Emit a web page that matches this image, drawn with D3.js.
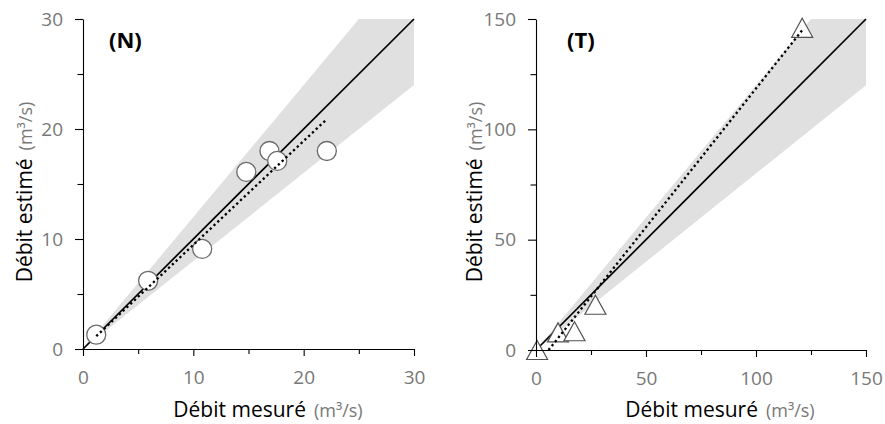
<!DOCTYPE html>
<html>
<head>
<meta charset="utf-8">
<script src="https://cdn.jsdelivr.net/npm/d3@7"></script>
<style>
  html, body { margin: 0; padding: 0; background: #fff; }
  svg { display: block; }
  text { font-family: "Open Sans", sans-serif; }
</style>
</head>
<body>
<svg id="chart" width="885" height="424"></svg>
<script>
// ---- Data ----
// Panel N (circles)
const nMeasured = [1.2, 5.9, 10.8, 14.8, 16.9, 17.6, 22.1];
const nEstimated = [1.3, 6.2, 9.1, 16.1, 18.0, 17.1, 18.0];
const nFitRange = [1.2, 22.0];
const nFitCoef = [0.03, 0.944];   // intercept, slope
const nMajorTicks = [0, 10, 20, 30];
const nMinorTicks = [5, 15, 25];

// Panel T (triangles)
const tMeasured = [0.5, 10, 17.5, 27, 121];
const tEstimated = [0, 8, 8.5, 20.5, 146];
const tFitRange = [5.7, 121];
const tFitCoef = [-7.2, 1.257];
const tMajorTicks = [0, 50, 100, 150];
const tMinorTicks = [25, 75, 125];

// ±20 % band around the 1:1 line
const bandFactors = [0.8, 1.2];

const panelLabels = ["(N)", "(T)"];
const xTitle = "Débit mesuré";
const yTitle = "Débit estimé";
const unitText = "(m³/s)";

// ---- Drawing ----
const svg = d3.select("#chart");
const tickColor = "#787878";

const panels = [
  { label: panelLabels[0], xs: nMeasured, ys: nEstimated, fitRange: nFitRange, fit: nFitCoef,
    max: 30, major: nMajorTicks, minor: nMinorTicks, marker: "circle",
    xr: [83, 414], yr: [349, 19], xTitleX: 268, yTitleX: 32, labelX: 109 },
  { label: panelLabels[1], xs: tMeasured, ys: tEstimated, fitRange: tFitRange, fit: tFitCoef,
    max: 150, major: tMajorTicks, minor: tMinorTicks, marker: "triangle",
    xr: [536, 866], yr: [350, 19], xTitleX: 720, yTitleX: 482, labelX: 567 }
];

panels.forEach((p, i) => {
  const x = d3.scaleLinear().domain([0, p.max]).range(p.xr);
  const y = d3.scaleLinear().domain([0, p.max]).range(p.yr);
  const g = svg.append("g");

  const clipId = "clip" + i;
  svg.append("clipPath").attr("id", clipId)
    .append("rect")
    .attr("x", p.xr[0]).attr("y", p.yr[1])
    .attr("width", p.xr[1] - p.xr[0]).attr("height", p.yr[0] - p.yr[1]);

  // band
  const bandPts = [[0, 0], [p.max * 2, p.max * 2 * bandFactors[1]], [p.max * 2, p.max * 2 * bandFactors[0]]];
  g.append("path")
    .attr("clip-path", `url(#${clipId})`)
    .attr("d", d3.line().x(d => x(d[0])).y(d => y(d[1]))(bandPts) + "Z")
    .attr("fill", "#e0e0e0");

  // 1:1 line
  g.append("path")
    .attr("d", d3.line().x(d => x(d[0])).y(d => y(d[1]))([[0, 0], [p.max, p.max]]))
    .attr("stroke", "#000").attr("stroke-width", 1.7).attr("fill", "none");

  // markers
  const pts = p.xs.map((v, k) => [v, p.ys[k]]);
  if (p.marker === "circle") {
    g.selectAll("circle.pt").data(pts).enter().append("circle")
      .attr("class", "pt")
      .attr("cx", d => x(d[0])).attr("cy", d => y(d[1])).attr("r", 9.5)
      .attr("fill", "#fff").attr("stroke", "#6a6a6a").attr("stroke-width", 1.3);
  } else {
    g.selectAll("path.pt").data(pts).enter().append("path")
      .attr("class", "pt")
      .attr("d", d => {
        const cx = x(d[0]), cy = y(d[1]);
        return `M${cx},${cy - 9.5}L${cx + 10.5},${cy + 9.5}L${cx - 10.5},${cy + 9.5}Z`;
      })
      .attr("fill", "#fff").attr("stroke", "#505050").attr("stroke-width", 1.2);
  }

  // regression (dotted)
  const fitPts = p.fitRange.map(v => [v, p.fit[0] + p.fit[1] * v]);
  g.append("path")
    .attr("d", d3.line().x(d => x(d[0])).y(d => y(d[1]))(fitPts))
    .attr("stroke", "#000").attr("stroke-width", 2.3)
    .attr("stroke-dasharray", "2.3,2.9").attr("fill", "none");

  // axes
  const xAxis = g.append("g").attr("transform", `translate(0,${p.yr[0]})`)
    .call(d3.axisBottom(x).tickValues(p.major).tickSize(7).tickSizeOuter(0).tickPadding(15));
  g.append("g").attr("transform", `translate(0,${p.yr[0]})`)
    .call(d3.axisBottom(x).tickValues(p.minor).tickSize(5).tickFormat("").tickSizeOuter(0))
    .select(".domain").remove();
  const yAxis = g.append("g").attr("transform", `translate(${p.xr[0]},0)`)
    .call(d3.axisLeft(y).tickValues(p.major).tickSize(8).tickSizeOuter(0).tickPadding(12));
  g.append("g").attr("transform", `translate(${p.xr[0]},0)`)
    .call(d3.axisLeft(y).tickValues(p.minor).tickSize(5.5).tickFormat("").tickSizeOuter(0))
    .select(".domain").remove();

  g.selectAll(".tick line").attr("stroke", "#000").attr("stroke-width", 1.1);
  g.selectAll(".domain").attr("stroke", "#000").attr("stroke-width", 1.1);
  xAxis.selectAll(".tick text").attr("font-size", 19).attr("fill", tickColor)
    .attr("font-family", "'Open Sans', sans-serif");
  yAxis.selectAll(".tick text").attr("font-size", 19).attr("fill", tickColor)
    .attr("font-family", "'Open Sans', sans-serif");

  // axis titles
  const xt = svg.append("text")
    .attr("x", p.xTitleX).attr("y", 417).attr("text-anchor", "middle");
  xt.append("tspan").attr("font-size", 21).attr("fill", "#000").text(xTitle);
  xt.append("tspan").attr("font-size", 18).attr("fill", tickColor).attr("dx", 8).text(unitText);

  const yt = svg.append("text")
    .attr("transform", `translate(${p.yTitleX},192) rotate(-90)`).attr("text-anchor", "middle");
  yt.append("tspan").attr("font-size", 21).attr("fill", "#000").text(yTitle);
  yt.append("tspan").attr("font-size", 18).attr("fill", tickColor).attr("dx", 8).text(unitText);

  // panel label
  svg.append("text").attr("x", p.labelX).attr("y", 48)
    .attr("font-size", 22).attr("font-weight", "bold").attr("fill", "#000")
    .text(p.label);
});
</script>
</body>
</html>
